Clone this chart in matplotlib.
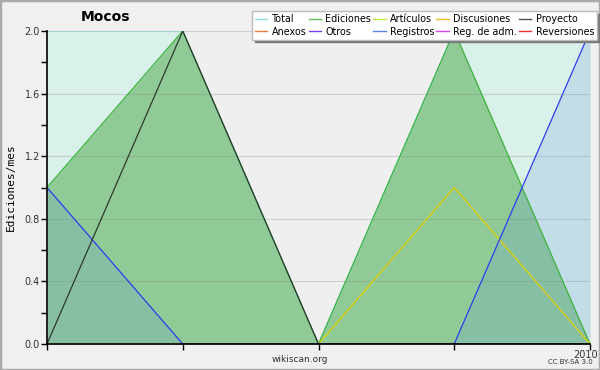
import matplotlib
matplotlib.use("Agg")
import matplotlib.pyplot as plt
import matplotlib.transforms as mtransforms
import numpy as np
from matplotlib.patches import Rectangle
from matplotlib.lines import Line2D

x_idx = [0, 1, 2, 3, 4]
total = [2, 2, 0, 2, 2]
ediciones = [1, 2, 0, 2, 0]
discusiones = [0, 0, 0, 1, 0]
proyecto = [0, 2, 0, 0, 0]
registros = [1, 0, 0, 0, 2]

yticks = [0.0, 0.4, 0.8, 1.2, 1.6, 2.0]
ytick_labels = ["0.0", "0.4", "0.8", "1.2", "1.6", "2.0"]
xtick_labels = ["", "", "", "", "2010"]

legend_names = ["Total", "Anexos", "Ediciones", "Otros", "Artículos", "Registros",
                "Discusiones", "Reg. de adm.", "Proyecto", "Reversiones"]
legend_colors = ["#8fe0e0", "#f08040", "#60c060", "#8040f0", "#c0f040", "#6080f0",
                 "#f0c020", "#e040f0", "#505050", "#f03030"]

fig = plt.figure(figsize=(6, 3.7), dpi=100)
fig.patch.set_facecolor("#f0f0f0")
ax = fig.add_axes([47/600, 1-344/370, 543/600, 313/370])
ax.set_facecolor("#efeff0")

ax.fill_between(x_idx, total, 0, color="#daf0ea", lw=0, zorder=1)
ax.plot(x_idx, total, color="#8fd6d6", lw=1, zorder=5)
ax.fill_between(x_idx, ediciones, 0, color="#90ca96", lw=0, zorder=2)
ax.fill_between(x_idx, registros, 0, color=(91/255, 144/255, 224/255), alpha=0.19, lw=0, zorder=3)
ax.plot(x_idx, ediciones, color="#3cb43c", lw=0.9, zorder=6)
ax.plot(x_idx, discusiones, color="#e0d000", lw=0.9, zorder=6)
ax.plot(x_idx, proyecto, color="#303830", lw=0.9, zorder=7)
ax.plot(x_idx, registros, color="#2a3cf0", lw=0.9, zorder=6)

ax.set_xlim(0, 4)
ax.set_ylim(0, 2)
for y in yticks[1:]:
    ax.axhline(y, color="#888888", alpha=0.3, lw=0.8, zorder=4)

ax.set_yticks(yticks)
ax.set_yticklabels(ytick_labels)
ax.set_yticks(np.arange(0, 2.01, 0.2), minor=True)
ax.set_xticks(x_idx)
ax.set_xticklabels(xtick_labels)
ax.tick_params(axis="both", labelsize=7, colors="black", labelcolor="#333333", length=4, width=1, pad=1)
ax.tick_params(axis="y", which="minor", length=4, width=1)
ax.tick_params(axis="x", length=4, pad=0)
offset = mtransforms.ScaledTranslation(8/100, 0, fig.dpi_scale_trans)
for lab in ax.get_xticklabels():
    lab.set_horizontalalignment("right")
    lab.set_transform(lab.get_transform() + offset)
for s in ["top", "right"]:
    ax.spines[s].set_visible(False)
ax.spines["left"].set_linewidth(1.2)
ax.spines["bottom"].set_linewidth(1.2)
ax.spines["left"].set_zorder(10)
ax.spines["bottom"].set_zorder(10)

ax.set_ylabel("Ediciones/mes", fontsize=8, family="DejaVu Sans Mono", labelpad=6)

fig.text(105/600, 1-17/370, "Mocos", fontsize=10, fontweight="bold", ha="center", va="center")
fig.text(300/600, 1-360/370, "wikiscan.org", fontsize=6.5, color="#333333", ha="center", va="center")
fig.text(570/600, 1-362/370, "CC BY-SA 3.0", fontsize=5, color="#333333", ha="center", va="center")

handles = [Line2D([], [], color=c, lw=1) for c in legend_colors]
leg = fig.legend(handles, legend_names, ncol=5, loc="upper right",
                 bbox_to_anchor=(597/600, 1-11/370), fontsize=6.9,
                 handlelength=1.3, handletextpad=0.45, columnspacing=0.2,
                 labelspacing=0.3, borderpad=0.3, borderaxespad=0,
                 frameon=True, fancybox=False, shadow={"color": "#777777", "alpha": 1.0},)
leg.get_frame().set_edgecolor("#bbbbbb")
leg.get_frame().set_linewidth(1.0)
leg.get_frame().set_facecolor("white")

fig.patches.append(Rectangle((0, 0), 1, 1, transform=fig.transFigure, fill=False,
                             edgecolor="#aaaaaa", lw=2.5))

fig.savefig("out.png", dpi=100, facecolor=fig.get_facecolor())
